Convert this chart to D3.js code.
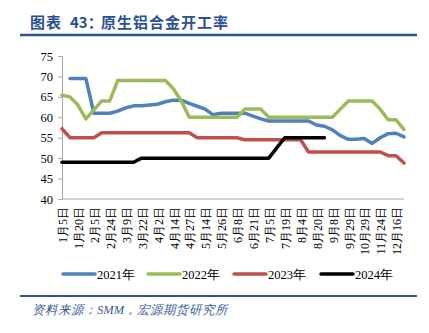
<!DOCTYPE html>
<html>
<head>
<meta charset="utf-8">
<script src="https://cdn.jsdelivr.net/npm/d3@7"></script>
<style>
  body { margin: 0; background: #fff; }
  svg { display: block; }
</style>
</head>
<body>
<svg id="chart" width="429" height="333"></svg>
<script>
// ---- data ----
const tickLabels = ["1月5日","1月20日","2月5日","2月24日","3月9日","3月22日","4月2日","4月14日","4月27日","5月14日","5月26日","6月8日","6月21日","7月5日","7月19日","8月4日","8月20日","9月8日","9月29日","10月29日","11月24日","12月16日"];
const seriesNames = ["2021年","2022年","2023年","2024年"];
const s2021 = [null,69.5,69.5,69.5,61,61,61,61.5,62.3,62.8,62.8,63,63.2,63.8,64.2,64.2,63.4,62.7,62,60.6,61,61,61,61,60.3,59.6,59.1,59.1,59.1,59.1,59.1,59.1,58.1,57.8,56.9,55.5,54.6,54.6,54.8,53.6,55,56,56.1,55.2];
const s2022 = [65.4,65,63,59.6,61.8,64,64,69,69,69,69,69,69,69,67,64,60,60,60,60,60,60,60,62,62,62,60,60,60,60,60,60,60,60,60,62,64,64,64,64,62,59.4,59.4,57];
const s2023 = [57.2,55,55,55,55,56.2,56.2,56.2,56.2,56.2,56.2,56.2,56.2,56.2,56.2,56.2,56.2,55,55,55,55,55,55,54.5,54.5,54.5,54.5,54.5,54.5,54.5,54.5,51.5,51.5,51.5,51.5,51.5,51.5,51.5,51.5,51.5,51.5,50.6,50.6,48.8];
const s2024 = [49,49,49,49,49,49,49,49,49,49,50,50,50,50,50,50,50,50,50,50,50,50,50,50,50,50,50,52.5,55,55,55,55,55,55];
const yTicks = [40,45,50,55,60,65,70,75];
const colors = ["#4f81bd","#9bbb59","#c0504d","#000000"];
const nPoints = s2021.length;

const svg = d3.select("#chart");
const serif = "'Times New Roman','Liberation Serif',serif";
const blue = "#2e5395";

// title
const title = svg.append("text").attr("y", 28)
  .attr("font-family", "'Noto Sans CJK SC',sans-serif").attr("font-weight", "bold")
  .attr("font-size", 15).attr("fill", "#2a4f93");
title.append("tspan").attr("x", 30).attr("letter-spacing", 1).text("图表");
title.append("tspan").attr("x", 70).text("43：");
title.append("tspan").attr("x", 101).attr("letter-spacing", 1).text("原生铝合金开工率");
svg.append("line").attr("x1", 20).attr("x2", 417).attr("y1", 35).attr("y2", 35)
  .attr("stroke", blue).attr("stroke-width", 2.5);

// scales
const x = d3.scaleLinear().domain([0, nPoints - 1]).range([62, 404]);
const y = d3.scaleLinear().domain([40, 75]).range([199, 56]);

// y axis
const yAxis = svg.append("g").attr("transform", "translate(62,0)")
  .call(d3.axisLeft(y).tickValues(yTicks).tickSize(4).tickPadding(5).tickFormat(d3.format("d")));
yAxis.select(".domain").attr("stroke", "#a6a6a6");
yAxis.selectAll(".tick line").attr("stroke", "#a6a6a6");
yAxis.selectAll(".tick text").attr("font-family", serif).attr("font-size", 12.5).attr("fill", "#000");

// x axis line
svg.append("line").attr("x1", 62).attr("x2", 404).attr("y1", y(40)).attr("y2", y(40))
  .attr("stroke", "#a6a6a6").attr("stroke-width", 1);

// x labels
svg.append("g").selectAll("text").data(tickLabels).join("text")
  .attr("transform", (d, i) => `translate(${x(i * 2) + 1},207) rotate(-90)`)
  .attr("text-anchor", "end").attr("dy", "0.35em")
  .attr("font-family", serif).attr("font-size", 12).attr("fill", "#000")
  .text(d => d);

// lines
const allSeries = [s2021, s2022, s2023, s2024];
const line = d3.line().defined(d => d != null).x((d, i) => x(i)).y(d => y(d));
allSeries.forEach((s, k) => {
  svg.append("path").datum(s).attr("d", line)
    .attr("fill", "none").attr("stroke", colors[k]).attr("stroke-width", 3.5)
    .attr("stroke-linejoin", "round").attr("stroke-linecap", "round");
});

// legend
const legX = [63, 148, 234, 321];
const leg = svg.append("g");
seriesNames.forEach((name, k) => {
  leg.append("line").attr("x1", legX[k]).attr("x2", legX[k] + 32).attr("y1", 274).attr("y2", 274)
    .attr("stroke", colors[k]).attr("stroke-width", 3.5).attr("stroke-linecap", "round");
  leg.append("text").attr("x", legX[k] + 34).attr("y", 278.5)
    .attr("font-family", serif).attr("font-size", 12.5).attr("fill", "#000").text(name);
});

// footer
svg.append("line").attr("x1", 20).attr("x2", 417).attr("y1", 296).attr("y2", 296)
  .attr("stroke", blue).attr("stroke-width", 2);
svg.append("text").attr("x", 32).attr("y", 314)
  .attr("font-family", serif).attr("font-style", "italic").attr("font-size", 12.5)
  .attr("fill", "#3b5a94").text("资料来源：SMM，宏源期货研究所");
</script>
</body>
</html>
